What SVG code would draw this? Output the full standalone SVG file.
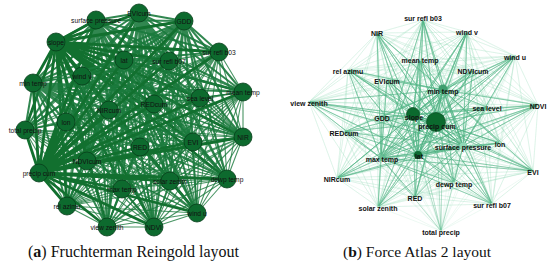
<svg xmlns="http://www.w3.org/2000/svg" width="550" height="268" viewBox="0 0 550 268">
<style>
.bg{fill:#fff}
.le{fill:none;stroke:#1b7a3d;stroke-linejoin:round;stroke-linecap:round}
.l1{stroke-width:1.1;stroke-opacity:.8}
.l2{stroke-width:2;stroke-opacity:.9}
.l3{stroke-width:2.8;stroke:#12702f}
.ln circle{fill:#0d6a2e;stroke:#083d1a;stroke-width:.8}
.ln text{font-family:"Liberation Sans",Arial,sans-serif;font-size:6.7px;fill:#111;text-anchor:middle}
.re{fill:none;stroke-linejoin:round;stroke-linecap:round}
.r1{stroke:#9adcbd;stroke-width:.45;stroke-opacity:.4}
.r2{stroke:#4fb383;stroke-width:.9;stroke-opacity:.45}
.rn text{font-family:"Liberation Sans",Arial,sans-serif;font-size:7px;font-weight:bold;fill:#111;text-anchor:middle}
.cap{font-family:"Liberation Serif","Times New Roman",serif;fill:#111}
</style>
<rect class="bg" width="550" height="268"/>
<g id="connectors-left">
<path class="le l2" d="M96 20L139 13 96 20 184 21 96 20 56 42 96 20 124 60 96 20 219 52 96 20 169 61 96 20 82 76 96 20 33 83 96 20 109 110 96 20 154 104 96 20 200 98 96 20 243 92 96 20 66 122 96 20 25 130 96 20 140 147 96 20 193 142 96 20 243 137 96 20 87 161 96 20 39 173 96 20 170 181 96 20 227 179 96 20 122 189 96 20 67 206 96 20 197 213 96 20 107 227 96 20 154 227"/>
<path class="le l2" d="M139 13L184 21 139 13 56 42 139 13 124 60 139 13 219 52 139 13 169 61 139 13 82 76 139 13 33 83 139 13 109 110 139 13 154 104 139 13 200 98 139 13 243 92 139 13 66 122 139 13 25 130 139 13 140 147 139 13 193 142 139 13 243 137 139 13 87 161 139 13 39 173 139 13 170 181 139 13 227 179 139 13 122 189 139 13 67 206 139 13 197 213 139 13 107 227 139 13 154 227"/>
<path class="le l2" d="M184 21L56 42 184 21 124 60 184 21 219 52 184 21 169 61 184 21 82 76 184 21 33 83 184 21 109 110 184 21 154 104 184 21 200 98 184 21 243 92 184 21 66 122 184 21 25 130 184 21 140 147 184 21 193 142 184 21 243 137 184 21 87 161 184 21 39 173 184 21 170 181 184 21 227 179 184 21 122 189 184 21 67 206 184 21 197 213 184 21 107 227 184 21 154 227"/>
<path class="le l3" d="M56 42L96 20 56 42 139 13 56 42 184 21 56 42 124 60 56 42 219 52 56 42 169 61 56 42 82 76 56 42 33 83 56 42 109 110 56 42 154 104 56 42 200 98 56 42 243 92 56 42 66 122 56 42 25 130 56 42 140 147 56 42 193 142 56 42 243 137 56 42 87 161 56 42 170 181 56 42 227 179 56 42 122 189 56 42 67 206 56 42 197 213 56 42 107 227 56 42 154 227"/>
<path class="le l2" d="M124 60L219 52 124 60 169 61 124 60 82 76 124 60 33 83 124 60 109 110 124 60 154 104 124 60 200 98 124 60 243 92 124 60 66 122 124 60 25 130 124 60 140 147 124 60 193 142 124 60 243 137 124 60 87 161 124 60 39 173 124 60 170 181 124 60 227 179 124 60 122 189 124 60 67 206 124 60 197 213 124 60 107 227 124 60 154 227"/>
<path class="le l1" d="M219 52L169 61 219 52 82 76 219 52 33 83 219 52 109 110 219 52 154 104 219 52 200 98 219 52 243 92 219 52 66 122 219 52 25 130 219 52 140 147 219 52 193 142 219 52 243 137 219 52 87 161 219 52 39 173 219 52 170 181 219 52 227 179 219 52 122 189 219 52 67 206 219 52 197 213 219 52 107 227 219 52 154 227"/>
<path class="le l1" d="M169 61L82 76 169 61 33 83 169 61 109 110 169 61 154 104 169 61 200 98 169 61 243 92 169 61 66 122 169 61 25 130 169 61 140 147 169 61 193 142 169 61 243 137 169 61 87 161 169 61 39 173 169 61 170 181 169 61 227 179 169 61 122 189 169 61 67 206 169 61 197 213 169 61 107 227 169 61 154 227"/>
<path class="le l1" d="M82 76L33 83 82 76 109 110 82 76 154 104 82 76 200 98 82 76 243 92 82 76 66 122 82 76 25 130 82 76 140 147 82 76 193 142 82 76 243 137 82 76 87 161 82 76 39 173 82 76 170 181 82 76 227 179 82 76 122 189 82 76 67 206 82 76 197 213 82 76 107 227 82 76 154 227"/>
<path class="le l2" d="M33 83L109 110 33 83 154 104 33 83 200 98 33 83 243 92 33 83 66 122 33 83 25 130 33 83 140 147 33 83 193 142 33 83 243 137 33 83 87 161 33 83 39 173 33 83 170 181 33 83 227 179 33 83 122 189 33 83 67 206 33 83 197 213 33 83 107 227 33 83 154 227"/>
<path class="le l1" d="M109 110L154 104 109 110 200 98 109 110 243 92 109 110 66 122 109 110 25 130 109 110 140 147 109 110 193 142 109 110 243 137 109 110 87 161 109 110 39 173 109 110 170 181 109 110 227 179 109 110 122 189 109 110 67 206 109 110 197 213 109 110 107 227 109 110 154 227"/>
<path class="le l1" d="M154 104L200 98 154 104 243 92 154 104 66 122 154 104 25 130 154 104 140 147 154 104 193 142 154 104 243 137 154 104 87 161 154 104 39 173 154 104 170 181 154 104 227 179 154 104 122 189 154 104 67 206 154 104 197 213 154 104 107 227 154 104 154 227"/>
<path class="le l1" d="M200 98L243 92 200 98 66 122 200 98 25 130 200 98 140 147 200 98 193 142 200 98 243 137 200 98 87 161 200 98 39 173 200 98 170 181 200 98 227 179 200 98 122 189 200 98 67 206 200 98 197 213 200 98 107 227 200 98 154 227"/>
<path class="le l1" d="M243 92L66 122 243 92 25 130 243 92 140 147 243 92 193 142 243 92 243 137 243 92 87 161 243 92 39 173 243 92 170 181 243 92 227 179 243 92 122 189 243 92 67 206 243 92 197 213 243 92 107 227 243 92 154 227"/>
<path class="le l1" d="M66 122L25 130 66 122 140 147 66 122 193 142 66 122 243 137 66 122 87 161 66 122 39 173 66 122 170 181 66 122 227 179 66 122 122 189 66 122 67 206 66 122 197 213 66 122 107 227 66 122 154 227"/>
<path class="le l1" d="M25 130L140 147 25 130 193 142 25 130 243 137 25 130 87 161 25 130 39 173 25 130 170 181 25 130 227 179 25 130 122 189 25 130 67 206 25 130 197 213 25 130 107 227 25 130 154 227"/>
<path class="le l1" d="M140 147L193 142 140 147 243 137 140 147 87 161 140 147 39 173 140 147 170 181 140 147 227 179 140 147 122 189 140 147 67 206 140 147 197 213 140 147 107 227 140 147 154 227"/>
<path class="le l1" d="M193 142L243 137 193 142 87 161 193 142 39 173 193 142 170 181 193 142 227 179 193 142 122 189 193 142 67 206 193 142 197 213 193 142 107 227 193 142 154 227"/>
<path class="le l1" d="M243 137L87 161 243 137 39 173 243 137 170 181 243 137 227 179 243 137 122 189 243 137 67 206 243 137 197 213 243 137 107 227 243 137 154 227"/>
<path class="le l1" d="M87 161L39 173 87 161 170 181 87 161 227 179 87 161 122 189 87 161 67 206 87 161 197 213 87 161 107 227 87 161 154 227"/>
<path class="le l1" d="M170 181L227 179 170 181 122 189 170 181 67 206 170 181 197 213 170 181 107 227 170 181 154 227"/>
<path class="le l1" d="M227 179L122 189 227 179 67 206 227 179 197 213 227 179 107 227 227 179 154 227"/>
<path class="le l1" d="M122 189L67 206 122 189 197 213 122 189 107 227 122 189 154 227"/>
<path class="le l1" d="M67 206L197 213 67 206 107 227 67 206 154 227"/>
<path class="le l1" d="M197 213L107 227 197 213 154 227 M107 227L154 227"/>
<path class="le l3" d="M39 173L96 20 39 173 139 13 39 173 184 21 39 173 56 42 39 173 124 60 39 173 219 52 39 173 169 61 39 173 82 76 39 173 33 83 39 173 109 110 39 173 154 104 39 173 200 98 39 173 243 92 39 173 66 122 39 173 25 130 39 173 140 147 39 173 193 142 39 173 243 137 39 173 87 161 39 173 170 181 39 173 227 179 39 173 122 189 39 173 67 206 39 173 197 213 39 173 107 227 39 173 154 227"/>
</g>
<g id="connectors-right">
<path class="re r1" d="M377 33L423 20 377 33 467 32 377 33 515 56 377 33 420 60 377 33 473 70 377 33 348 70 377 33 387 80 377 33 443 90 377 33 487 107 377 33 538 105 377 33 309 102 377 33 382 117 377 33 413 115 377 33 436 122 377 33 344 132 377 33 463 146 377 33 500 143 377 33 381 158 377 33 418 155 377 33 533 171 377 33 337 178 377 33 454 183 377 33 378 207 377 33 415 197 377 33 492 204 377 33 441 231"/>
<path class="re r1" d="M423 20L467 32 423 20 515 56 423 20 420 60 423 20 473 70 423 20 348 70 423 20 387 80 423 20 443 90 423 20 487 107 423 20 538 105 423 20 309 102 423 20 382 117 423 20 413 115 423 20 436 122 423 20 344 132 423 20 463 146 423 20 500 143 423 20 381 158 423 20 418 155 423 20 533 171 423 20 337 178 423 20 454 183 423 20 378 207 423 20 415 197 423 20 492 204 423 20 441 231"/>
<path class="re r1" d="M467 32L515 56 467 32 420 60 467 32 473 70 467 32 348 70 467 32 387 80 467 32 443 90 467 32 487 107 467 32 538 105 467 32 309 102 467 32 382 117 467 32 413 115 467 32 436 122 467 32 344 132 467 32 463 146 467 32 500 143 467 32 381 158 467 32 418 155 467 32 533 171 467 32 337 178 467 32 454 183 467 32 378 207 467 32 415 197 467 32 492 204 467 32 441 231"/>
<path class="re r1" d="M515 56L420 60 515 56 473 70 515 56 348 70 515 56 387 80 515 56 443 90 515 56 487 107 515 56 538 105 515 56 309 102 515 56 382 117 515 56 413 115 515 56 436 122 515 56 344 132 515 56 463 146 515 56 500 143 515 56 381 158 515 56 418 155 515 56 533 171 515 56 337 178 515 56 454 183 515 56 378 207 515 56 415 197 515 56 492 204 515 56 441 231"/>
<path class="re r1" d="M420 60L473 70 420 60 348 70 420 60 387 80 420 60 443 90 420 60 487 107 420 60 538 105 420 60 309 102 420 60 382 117 420 60 413 115 420 60 436 122 420 60 344 132 420 60 463 146 420 60 500 143 420 60 381 158 420 60 418 155 420 60 533 171 420 60 337 178 420 60 454 183 420 60 378 207 420 60 415 197 420 60 492 204 420 60 441 231"/>
<path class="re r1" d="M473 70L348 70 473 70 387 80 473 70 443 90 473 70 487 107 473 70 538 105 473 70 309 102 473 70 382 117 473 70 413 115 473 70 436 122 473 70 344 132 473 70 463 146 473 70 500 143 473 70 381 158 473 70 418 155 473 70 533 171 473 70 337 178 473 70 454 183 473 70 378 207 473 70 415 197 473 70 492 204 473 70 441 231"/>
<path class="re r1" d="M348 70L387 80 348 70 443 90 348 70 487 107 348 70 538 105 348 70 309 102 348 70 382 117 348 70 413 115 348 70 436 122 348 70 344 132 348 70 463 146 348 70 500 143 348 70 381 158 348 70 418 155 348 70 533 171 348 70 337 178 348 70 454 183 348 70 378 207 348 70 415 197 348 70 492 204 348 70 441 231"/>
<path class="re r1" d="M387 80L443 90 387 80 487 107 387 80 538 105 387 80 309 102 387 80 382 117 387 80 413 115 387 80 436 122 387 80 344 132 387 80 463 146 387 80 500 143 387 80 381 158 387 80 418 155 387 80 533 171 387 80 337 178 387 80 454 183 387 80 378 207 387 80 415 197 387 80 492 204 387 80 441 231"/>
<path class="re r1" d="M487 107L538 105 487 107 309 102 487 107 382 117 487 107 413 115 487 107 436 122 487 107 344 132 487 107 463 146 487 107 500 143 487 107 381 158 487 107 418 155 487 107 533 171 487 107 337 178 487 107 454 183 487 107 378 207 487 107 415 197 487 107 492 204 487 107 441 231"/>
<path class="re r1" d="M538 105L309 102 538 105 382 117 538 105 413 115 538 105 436 122 538 105 344 132 538 105 463 146 538 105 500 143 538 105 381 158 538 105 418 155 538 105 533 171 538 105 337 178 538 105 454 183 538 105 378 207 538 105 415 197 538 105 492 204 538 105 441 231"/>
<path class="re r1" d="M309 102L382 117 309 102 413 115 309 102 436 122 309 102 344 132 309 102 463 146 309 102 500 143 309 102 381 158 309 102 418 155 309 102 533 171 309 102 337 178 309 102 454 183 309 102 378 207 309 102 415 197 309 102 492 204 309 102 441 231"/>
<path class="re r1" d="M382 117L344 132 382 117 500 143 382 117 533 171 382 117 337 178 382 117 454 183 382 117 378 207 382 117 415 197 382 117 492 204 382 117 441 231"/>
<path class="re r1" d="M344 132L500 143 344 132 533 171 344 132 337 178 344 132 454 183 344 132 378 207 344 132 415 197 344 132 492 204 344 132 441 231"/>
<path class="re r1" d="M500 143L533 171 500 143 337 178 500 143 454 183 500 143 378 207 500 143 415 197 500 143 492 204 500 143 441 231"/>
<path class="re r1" d="M533 171L337 178 533 171 454 183 533 171 378 207 533 171 415 197 533 171 492 204 533 171 441 231"/>
<path class="re r1" d="M337 178L454 183 337 178 378 207 337 178 415 197 337 178 492 204 337 178 441 231"/>
<path class="re r1" d="M454 183L378 207 454 183 415 197 454 183 492 204 454 183 441 231 M378 207L415 197 378 207 492 204 378 207 441 231 M415 197L492 204 415 197 441 231 M492 204L441 231"/>
<path class="re r2" d="M436 122L377 33 436 122 423 20 436 122 467 32 436 122 515 56 436 122 420 60 436 122 473 70 436 122 348 70 436 122 387 80 436 122 443 90 436 122 487 107 436 122 538 105 436 122 309 102 436 122 382 117 436 122 413 115 436 122 344 132 436 122 463 146 436 122 500 143 436 122 381 158 436 122 418 155 436 122 533 171 436 122 337 178 436 122 454 183 436 122 378 207 436 122 415 197 436 122 492 204 436 122 441 231"/>
<path class="re r2" d="M413 115L377 33 413 115 423 20 413 115 467 32 413 115 515 56 413 115 420 60 413 115 473 70 413 115 348 70 413 115 387 80 413 115 443 90 413 115 487 107 413 115 538 105 413 115 309 102 413 115 382 117 413 115 436 122 413 115 344 132 413 115 463 146 413 115 500 143 413 115 381 158 413 115 418 155 413 115 533 171 413 115 337 178 413 115 454 183 413 115 378 207 413 115 415 197 413 115 492 204 413 115 441 231"/>
<path class="re r2" d="M418 155L377 33 418 155 423 20 418 155 467 32 418 155 515 56 418 155 420 60 418 155 473 70 418 155 348 70 418 155 387 80 418 155 443 90 418 155 487 107 418 155 538 105 418 155 309 102 418 155 382 117 418 155 413 115 418 155 436 122 418 155 344 132 418 155 463 146 418 155 500 143 418 155 381 158 418 155 533 171 418 155 337 178 418 155 454 183 418 155 378 207 418 155 415 197 418 155 492 204 418 155 441 231"/>
<path class="re r2" d="M443 90L377 33 443 90 423 20 443 90 467 32 443 90 515 56 443 90 420 60 443 90 473 70 443 90 348 70 443 90 387 80 443 90 487 107 443 90 538 105 443 90 309 102 443 90 382 117 443 90 413 115 443 90 436 122 443 90 344 132 443 90 463 146 443 90 500 143 443 90 381 158 443 90 418 155 443 90 533 171 443 90 337 178 443 90 454 183 443 90 378 207 443 90 415 197 443 90 492 204 443 90 441 231"/>
<path class="re r2" d="M463 146L377 33 463 146 423 20 463 146 467 32 463 146 515 56 463 146 420 60 463 146 473 70 463 146 348 70 463 146 387 80 463 146 443 90 463 146 487 107 463 146 538 105 463 146 309 102 463 146 382 117 463 146 413 115 463 146 436 122 463 146 344 132 463 146 500 143 463 146 381 158 463 146 418 155 463 146 533 171 463 146 337 178 463 146 454 183 463 146 378 207 463 146 415 197 463 146 492 204 463 146 441 231"/>
<path class="re r2" d="M381 158L377 33 381 158 423 20 381 158 467 32 381 158 515 56 381 158 420 60 381 158 473 70 381 158 348 70 381 158 387 80 381 158 487 107 381 158 538 105 381 158 309 102 381 158 382 117 381 158 344 132 381 158 500 143 381 158 533 171 381 158 337 178 381 158 454 183 381 158 378 207 381 158 415 197 381 158 492 204 381 158 441 231"/>
</g>
<g class="ln">
<g id="L-surface-pressure"><circle cx="96" cy="20" r="9"/><text x="96" y="22.5">surface pressure</text></g>
<g id="L-EVIcum"><circle cx="139" cy="13" r="9"/><text x="139" y="15.5">EVIcum</text></g>
<g id="L-GDD"><circle cx="184" cy="21" r="9"/><text x="184" y="23.5">GDD</text></g>
<g id="L-slope"><circle cx="56" cy="42" r="9"/><text x="56" y="44.5">slope</text></g>
<g id="L-lat"><circle cx="124" cy="60" r="9"/><text x="124" y="62.5">lat</text></g>
<g id="L-sur-refl-b03"><circle cx="219" cy="52" r="9"/><text x="219" y="54.5">sur refl b03</text></g>
<g id="L-sur-refl-b07"><circle cx="169" cy="61" r="9"/><text x="169" y="63.5">sur refl b07</text></g>
<g id="L-wind-v"><circle cx="82" cy="76" r="9"/><text x="82" y="78.5">wind v</text></g>
<g id="L-min-temp"><circle cx="33" cy="83" r="9"/><text x="33" y="85.5">min temp</text></g>
<g id="L-NIRcum"><circle cx="109" cy="110" r="9"/><text x="109" y="112.5">NIRcum</text></g>
<g id="L-REDcum"><circle cx="154" cy="104" r="9"/><text x="154" y="106.5">REDcum</text></g>
<g id="L-sea-level"><circle cx="200" cy="98" r="9"/><text x="200" y="100.5">sea level</text></g>
<g id="L-mean-temp"><circle cx="243" cy="92" r="9"/><text x="243" y="94.5">mean temp</text></g>
<g id="L-lon"><circle cx="66" cy="122" r="9"/><text x="66" y="124.5">lon</text></g>
<g id="L-total-precip"><circle cx="25" cy="130" r="9"/><text x="25" y="132.5">total precip</text></g>
<g id="L-RED"><circle cx="140" cy="147" r="9"/><text x="140" y="149.5">RED</text></g>
<g id="L-EVI"><circle cx="193" cy="142" r="9"/><text x="193" y="144.5">EVI</text></g>
<g id="L-NIR"><circle cx="243" cy="137" r="9"/><text x="243" y="139.5">NIR</text></g>
<g id="L-NDVIcum"><circle cx="87" cy="161" r="9"/><text x="87" y="163.5">NDVIcum</text></g>
<g id="L-precip-cum"><circle cx="39" cy="173" r="9"/><text x="39" y="175.5">precip cum</text></g>
<g id="L-solar-zenith"><circle cx="170" cy="181" r="9"/><text x="170" y="183.5">solar zenith</text></g>
<g id="L-dewp-temp"><circle cx="227" cy="179" r="9"/><text x="227" y="181.5">dewp temp</text></g>
<g id="L-max-temp"><circle cx="122" cy="189" r="9"/><text x="122" y="191.5">max temp</text></g>
<g id="L-rel-azimu"><circle cx="67" cy="206" r="9"/><text x="67" y="208.5">rel azimu</text></g>
<g id="L-wind-u"><circle cx="197" cy="213" r="9"/><text x="197" y="215.5">wind u</text></g>
<g id="L-view-zenith"><circle cx="107" cy="227" r="9"/><text x="107" y="229.5">view zenith</text></g>
<g id="L-NDVI"><circle cx="154" cy="227" r="9"/><text x="154" y="229.5">NDVI</text></g>
</g>
<g class="rn">
<g id="R-NIR"><circle cx="377" cy="33" r="1.2" fill="#b5e3cc"/><text x="377" y="35.5">NIR</text></g>
<g id="R-sur-refl-b03"><circle cx="423" cy="20" r="1.2" fill="#b5e3cc"/><text x="423" y="20.5">sur refl b03</text></g>
<g id="R-wind-v"><circle cx="467" cy="32" r="1.2" fill="#b5e3cc"/><text x="467" y="35">wind v</text></g>
<g id="R-wind-u"><circle cx="515" cy="56" r="1.2" fill="#b5e3cc"/><text x="515" y="59.5">wind u</text></g>
<g id="R-mean-temp"><circle cx="420" cy="60" r="1.2" fill="#b5e3cc"/><text x="420" y="63">mean temp</text></g>
<g id="R-NDVIcum"><circle cx="473" cy="70" r="1.2" fill="#b5e3cc"/><text x="473" y="73.5">NDVIcum</text></g>
<g id="R-rel-azimu"><circle cx="348" cy="70" r="1.2" fill="#b5e3cc"/><text x="348" y="73.5">rel azimu</text></g>
<g id="R-EVIcum"><circle cx="387" cy="80" r="1.2" fill="#b5e3cc"/><text x="387" y="83.5">EVIcum</text></g>
<g id="R-min-temp"><circle cx="443" cy="89" r="4.5" fill="#3f9e6e"/><text x="443" y="93.5">min temp</text></g>
<g id="R-sea-level"><circle cx="487" cy="107" r="1.2" fill="#b5e3cc"/><text x="487" y="110.5">sea level</text></g>
<g id="R-NDVI"><circle cx="538" cy="105" r="1.2" fill="#b5e3cc"/><text x="538" y="108.5">NDVI</text></g>
<g id="R-view-zenith"><circle cx="309" cy="102" r="1.2" fill="#b5e3cc"/><text x="309" y="105.5">view zenith</text></g>
<g id="R-GDD"><circle cx="382" cy="117" r="2" fill="#8fd3b2"/><text x="382" y="120.5">GDD</text></g>
<g id="R-slope"><circle cx="413" cy="114" r="6.5" fill="#0b6a2e" stroke="#06421c" stroke-width=".6"/><text x="414" y="120">slope</text></g>
<g id="R-precip-cum"><circle cx="436" cy="122" r="9.5" fill="#0b6a2e" stroke="#06421c" stroke-width=".6"/><text x="437" y="129">precip cum</text></g>
<g id="R-REDcum"><circle cx="344" cy="132" r="1.2" fill="#b5e3cc"/><text x="344" y="135.5">REDcum</text></g>
<g id="R-surface-pressure"><circle cx="463" cy="146" r="3.5" fill="#8fd8b6"/><text x="463" y="150">surface pressure</text></g>
<g id="R-lon"><circle cx="500" cy="143" r="1.5" fill="#b5e3cc"/><text x="500" y="146.5">lon</text></g>
<g id="R-max-temp"><circle cx="381" cy="158" r="3" fill="#6dbf98"/><text x="382" y="161.5">max temp</text></g>
<g id="R-lat"><circle cx="418" cy="155" r="4" fill="#0f6b33"/><text x="419" y="158.5">lat</text></g>
<g id="R-EVI"><circle cx="533" cy="171" r="1.2" fill="#b5e3cc"/><text x="533" y="174.5">EVI</text></g>
<g id="R-NIRcum"><circle cx="337" cy="178" r="1.2" fill="#b5e3cc"/><text x="337" y="181.5">NIRcum</text></g>
<g id="R-dewp-temp"><circle cx="454" cy="183" r="1.5" fill="#b5e3cc"/><text x="454" y="186.5">dewp temp</text></g>
<g id="R-solar-zenith"><circle cx="378" cy="207" r="1.2" fill="#b5e3cc"/><text x="378" y="210.5">solar zenith</text></g>
<g id="R-RED"><circle cx="415" cy="197" r="1.2" fill="#b5e3cc"/><text x="415" y="200.5">RED</text></g>
<g id="R-sur-refl-b07"><circle cx="492" cy="204" r="1.2" fill="#b5e3cc"/><text x="492" y="207.5">sur refl b07</text></g>
<g id="R-total-precip"><circle cx="441" cy="231" r="1.2" fill="#b5e3cc"/><text x="441" y="234.5">total precip</text></g>
</g>
<text class="cap" x="28" y="257" font-size="16">(<tspan font-weight="bold">a</tspan>) Fruchterman Reingold layout</text>
<text class="cap" x="343" y="257" font-size="15.5">(<tspan font-weight="bold">b</tspan>) Force Atlas 2 layout</text>
</svg>
